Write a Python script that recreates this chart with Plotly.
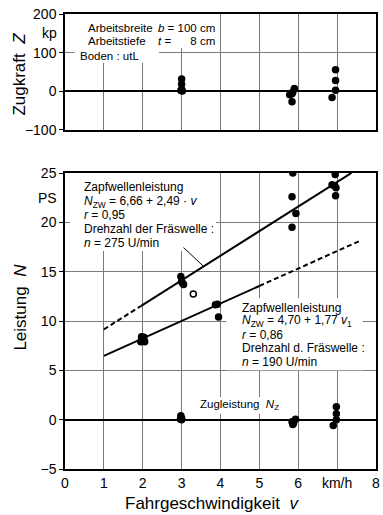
import plotly.graph_objects as go
import numpy as np

# --- measured data ---------------------------------------------------------
# Zugkraft Z [kp] over Fahrgeschwindigkeit v [km/h]
v_zug = [3.0, 3.0, 3.0, 2.98, 3.02, 5.78, 5.84, 5.86, 5.9, 5.84, 6.96, 6.96, 6.96, 6.87]
z_zug = [32, 18, 5, 2, 1, -9, -6, -2, 7, -27, 56, 28, 3, -16]

# Zapfwellenleistung, Drehzahl 275 U/min
v_zw275 = [2.98, 3.0, 3.05, 3.02, 5.86, 5.84, 5.94, 5.84, 6.95, 6.87, 6.94, 6.97, 6.96]
n_zw275 = [14.5, 14.0, 13.7, 13.85, 25.0, 22.6, 20.9, 19.5, 24.85, 23.8, 23.7, 23.5, 22.7]

# Zapfwellenleistung, Drehzahl 190 U/min
v_zw190 = [1.97, 2.03, 1.98, 2.05, 1.95, 3.92, 3.87, 3.95]
n_zw190 = [8.4, 8.35, 8.0, 7.9, 7.9, 11.7, 11.65, 10.4]

# single open-circle reading
v_open = [3.3]
n_open = [12.75]

# Zugleistung N_Z
v_nz = [2.98, 3.0, 3.0, 2.97, 5.84, 5.86, 5.88, 5.93, 6.98, 6.98, 6.98, 6.9]
n_nz = [0.4, 0.15, 0.0, 0.05, -0.2, -0.5, -0.35, 0.05, 1.3, 0.6, 0.0, -0.6]

# regression lines N_ZW = a + b*v
fit275 = (6.66, 2.49)
fit190 = (4.70, 1.77)
# (dashed range, solid range)
seg275_dash, seg275_solid = [1.0, 1.95], [1.95, 7.37]
seg190_solid, seg190_dash = [1.0, 5.0], [5.0, 7.57]

x_ticks = [0, 1, 2, 3, 4, 5, 6, 7, 8]
x_ticktext = ["0", "1", "2", "3", "4", "5", "6", "km/h", "8"]
z_ticks = [-100, 0, 100, 200]
n_ticks = [-5, 0, 5, 10, 15, 20, 25]

FONT = "Liberation Sans"
GRID = "#7a7a7a"

fig = go.Figure()


def fit_line(fit, seg, dash, xa, ya):
    a, b = fit
    xs = np.array(seg)
    fig.add_trace(go.Scatter(x=xs, y=a + b * xs, mode="lines",
                             line=dict(color="black", width=2, dash=dash),
                             xaxis=xa, yaxis=ya, showlegend=False,
                             hoverinfo="skip"))


def dots(xs, ys, xa, ya, symbol="circle"):
    fig.add_trace(go.Scatter(x=xs, y=ys, mode="markers",
                             marker=dict(color="black", size=6, symbol=symbol,
                                         line=dict(color="black", width=1.5)),
                             xaxis=xa, yaxis=ya, showlegend=False))


# upper panel
dots(v_zug, z_zug, "x", "y")

# lower panel
fit_line(fit275, seg275_dash, "5px,3px", "x2", "y2")
fit_line(fit275, seg275_solid, "solid", "x2", "y2")
fit_line(fit190, seg190_solid, "solid", "x2", "y2")
fit_line(fit190, seg190_dash, "5px,3px", "x2", "y2")
dots(v_zw275, n_zw275, "x2", "y2")
dots(v_zw190, n_zw190, "x2", "y2")
dots(v_open, n_open, "x2", "y2", symbol="circle-open")
dots(v_nz, n_nz, "x2", "y2")

# leader line to the 275 U/min regression
fig.add_trace(go.Scatter(x=[3.05, 3.56], y=[17.45, 15.55], mode="lines",
                         line=dict(color="black", width=1),
                         xaxis="x2", yaxis="y2", showlegend=False,
                         hoverinfo="skip"))

axis_common = dict(showline=True, mirror=True, linecolor="black", linewidth=1.5,
                   showgrid=True, gridcolor=GRID, gridwidth=1,
                   zeroline=True, zerolinecolor="black", zerolinewidth=2,
                   tickfont=dict(family=FONT, size=14, color="black"))

fig.update_layout(
    width=383, height=515,
    margin=dict(l=65, r=3, t=14, b=46),
    paper_bgcolor="white", plot_bgcolor="white",
    font=dict(family=FONT, color="black"),
    showlegend=False,
    xaxis=dict(axis_common, range=[0, 8], tickvals=x_ticks, showticklabels=False,
               anchor="y", domain=[0, 1], zeroline=False),
    yaxis=dict(axis_common, range=[-100, 200], tickvals=z_ticks,
               ticks="outside", ticklen=4, tickcolor="black",
               domain=[0.7451, 1], anchor="x"),
    xaxis2=dict(axis_common, range=[0, 8], tickvals=x_ticks, ticktext=x_ticktext,
                anchor="y2", domain=[0, 1], zeroline=False),
    yaxis2=dict(axis_common, range=[-5, 25], tickvals=n_ticks,
                ticks="outside", ticklen=4, tickcolor="black",
                domain=[0, 0.6505], anchor="x2"),
)

# white panels behind the text blocks (cover grid, stay below the data)
masks = [
    ("x", "y", 0.13, 3.92, 112, 200),
    ("x", "y", 0.25, 2.42, 74, 112),
    ("x2", "y2", 0.13, 3.88, 17.1, 25),
    ("x2", "y2", 4.15, 7.66, 5.0, 12.3),
    ("x2", "y2", 3.38, 5.76, 0.6, 2.3),
]
for xa, ya, x0, x1, y0, y1 in masks:
    fig.add_shape(type="rect", xref=xa, yref=ya, x0=x0, x1=x1, y0=y0, y1=y1,
                  fillcolor="white", line=dict(width=0), layer="between")


def txt(x, y, s, xa="x", ya="y", anchor="left", size=12):
    fig.add_annotation(x=x, y=y, xref=xa, yref=ya, text=s, showarrow=False,
                       xanchor=anchor, yanchor="middle",
                       font=dict(family=FONT, size=size, color="black"))


# upper panel text block
txt(0.55, 164, "Arbeitsbreite", size=11.5)
txt(3.9, 164, "<i>b</i> = 100 cm", anchor="right", size=11.5)
txt(0.55, 129.5, "Arbeitstiefe", size=11.5)
txt(3.9, 129.5, "<i>t</i> =      8 cm", anchor="right", size=11.5)
txt(0.33, 92, "Boden : utL", size=11.5)

# 275 U/min text block
for yy, s in [(23.55, "Zapfwellenleistung"),
              (22.1, "<i>N</i><sub>ZW</sub> = 6,66 + 2,49 · <i>v</i>"),
              (20.7, "<i>r</i> = 0,95"),
              (19.3, "Drehzahl der Fräswelle :"),
              (17.95, "<i>n</i> = 275 U/min")]:
    txt(0.43, yy, s, "x2", "y2")

# 190 U/min text block
for yy, s in [(11.36, "Zapfwellenleistung"),
              (9.99, "<i>N</i><sub>ZW</sub> = 4,70 + 1,77 <i>v</i><sub>1</sub>"),
              (8.62, "<i>r</i> = 0,86"),
              (7.25, "Drehzahl d. Fräswelle :"),
              (5.88, "<i>n</i> = 190 U/min")]:
    txt(4.49, yy, s, "x2", "y2")

txt(3.43, 1.5, "Zugleistung  <i>N</i><sub>Z</sub>", "x2", "y2", size=11.5)

# unit labels on the value axes
fig.add_annotation(x=-0.02, y=150, xref="paper", yref="y", text="kp",
                   showarrow=False, xanchor="right",
                   font=dict(family=FONT, size=14, color="black"))
fig.add_annotation(x=-0.02, y=22.5, xref="paper", yref="y2", text="PS",
                   showarrow=False, xanchor="right",
                   font=dict(family=FONT, size=14, color="black"))

# axis titles (pixel positions converted to paper coordinates)
PLOT_L, PLOT_W, PLOT_T, PLOT_H = 65, 315, 14, 455


def title(px, py, s, angle=0):
    fig.add_annotation(x=(px - PLOT_L) / PLOT_W, y=1 - (py - PLOT_T) / PLOT_H,
                       xref="paper", yref="paper", text=s, textangle=angle,
                       showarrow=False, xanchor="center", yanchor="middle",
                       font=dict(family=FONT, size=17, color="black"))


title(19, 74, "Zugkraft  <i>Z</i>", -90)
title(19, 307, "Leistung  <i>N</i>", -90)
title(214, 503, "Fahrgeschwindigkeit  <i>v</i>")

fig.write_html("out.html")
